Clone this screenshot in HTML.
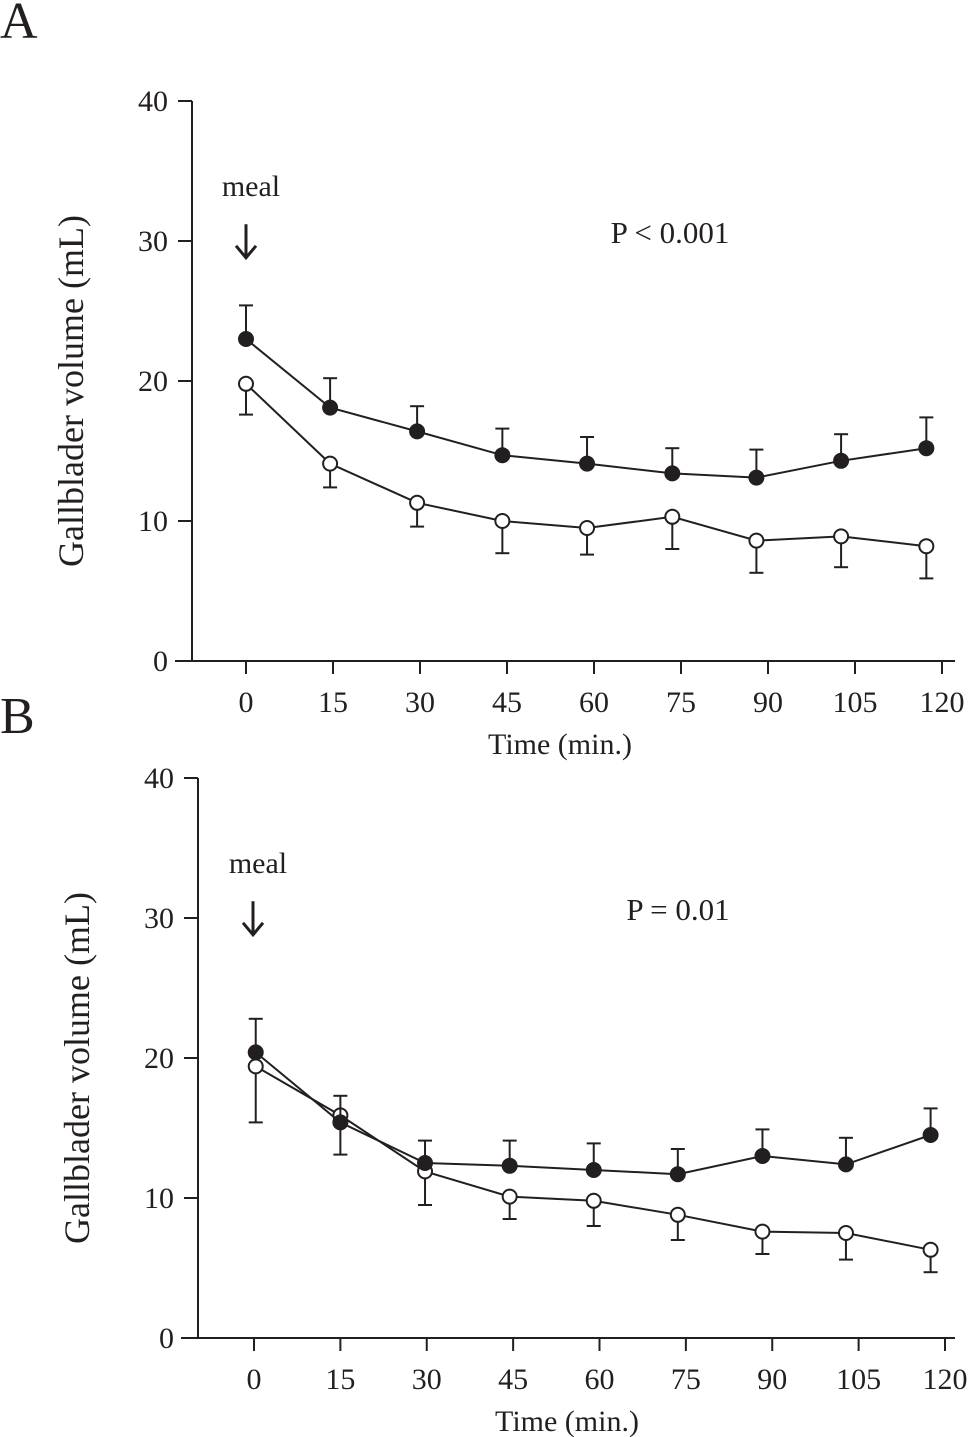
<!DOCTYPE html>
<html><head><meta charset="utf-8"><style>
body{margin:0;background:#fff}
svg{display:block;font-family:"Liberation Serif",serif;fill:#231f20}
</style></head><body>
<svg id="c" width="975" height="1437" viewBox="0 0 975 1437"></svg>
<script>
const times=[0,15,30,45,60,75,90,105,120];
const yTicks=[0,10,20,30,40];
const aX=[0,14.5,29.5,44.2,58.8,73.5,88,102.6,117.3];
const aFilled=[23.0,18.1,16.4,14.7,14.1,13.4,13.1,14.3,15.2];
const aFilledErr=[25.4,20.2,18.2,16.6,16.0,15.2,15.1,16.2,17.4];
const aOpen=[19.8,14.1,11.3,10.0,9.5,10.3,8.6,8.9,8.2];
const aOpenErr=[17.6,12.4,9.6,7.7,7.6,8.0,6.3,6.7,5.9];
const bX=[0.3,15,29.7,44.4,59,73.6,88.3,102.8,117.5];
const bFilled=[20.4,15.4,12.5,12.3,12.0,11.7,13.0,12.4,14.5];
const bFilledErr=[22.8,17.3,14.1,14.1,13.9,13.5,14.9,14.3,16.4];
const bOpen=[19.4,15.9,11.9,10.1,9.8,8.8,7.6,7.5,6.3];
const bOpenErr=[15.4,13.1,9.5,8.5,8.0,7.0,6.0,5.6,4.7];
const svg=document.getElementById('c');
const NS='http://www.w3.org/2000/svg';
function mk(tag,attrs,parent,txt){const e=document.createElementNS(NS,tag);for(const k in attrs)e.setAttribute(k,attrs[k]);if(txt!==undefined)e.textContent=txt;(parent||svg).appendChild(e);return e;}
function panel(p){
  const g=mk('g',{});
  
  
  const sx=v=>p.x0+v*(p.x120-p.x0)/120, sy=v=>p.y0+v*(p.y40-p.y0)/40;
  const st={stroke:'#231f20','stroke-width':2,fill:'none'};
  let l=mk('line',Object.assign({x1:p.ax,y1:p.y40,x2:p.ax,y2:p.y0},st),g);
  
  l=mk('line',Object.assign({x1:p.ax-17,y1:p.y0,x2:p.xend,y2:p.y0},st),g);
  
  yTicks.forEach(v=>{mk('line',Object.assign({x1:p.ax-14,y1:sy(v),x2:p.ax,y2:sy(v)},st),g);
    const t=mk('text',{x:p.ax-24,y:sy(v)+10,'text-anchor':'end','font-size':30},g,v);
    });
  times.forEach(v=>{mk('line',Object.assign({x1:sx(v),y1:p.y0,x2:sx(v),y2:p.y0+13},st),g);
    const t=mk('text',{x:sx(v),y:p.y0+51,'text-anchor':'middle','font-size':30},g,v);
    });
  let t=mk('text',{x:p.timeX,y:p.y0+93,'text-anchor':'middle','font-size':30},g,'Time (min.)');
  
  const cy=(p.y0+p.y40)/2;
  t=mk('text',{x:0,y:0,'text-anchor':'middle','font-size':36,transform:`translate(${p.ax-109},${cy+10}) rotate(-90)`},g,'Gallblader volume (mL)');
  
  t=mk('text',{x:p.labelX,y:p.labelY,'font-size':52},g,p.id);
  
  t=mk('text',{x:p.mealX,y:sy(33.2),'text-anchor':'middle','font-size':30},g,'meal');
  
  const ax0=p.mealX-5, ay1=sy(31.2), ay2=sy(28.8);
  const ar=mk('path',{d:`M${ax0} ${ay1}V${ay2}M${ax0-10} ${ay2-12}L${ax0} ${ay2}L${ax0+10} ${ay2-12}`,stroke:'#231f20','stroke-width':3,fill:'none'},g);
  
  t=mk('text',{x:p.pX,y:sy(30)+2,'text-anchor':'middle','font-size':31},g,p.ptext);
  
  function series(xs,ys,errs,filled,name){
    const sg=mk('g',{},g);
    
    xs.forEach((x,i)=>{mk('line',Object.assign({x1:sx(x),y1:sy(ys[i]),x2:sx(x),y2:sy(errs[i])},st),sg);
      mk('line',Object.assign({x1:sx(x)-7,y1:sy(errs[i]),x2:sx(x)+7,y2:sy(errs[i])},st),sg);});
    mk('polyline',Object.assign({points:xs.map((x,i)=>sx(x)+','+sy(ys[i])).join(' ')},st),sg);
    xs.forEach((x,i)=>{const c=mk('circle',{cx:sx(x),cy:sy(ys[i]),r:7,fill:filled?'#231f20':'#fff',stroke:'#231f20','stroke-width':2},sg);
      });
  }
  series(p.xs,p.open,p.openErr,false,'open-series');
  series(p.xs,p.filled,p.filledErr,true,'filled-series');
}
panel({id:'A',ax:192,xend:955,x0:246,x120:942,y0:661,y40:101,labelX:0,labelY:38,mealX:251,pX:670,timeX:560,ptext:'P < 0.001',
  xs:aX,filled:aFilled,filledErr:aFilledErr,open:aOpen,openErr:aOpenErr});
panel({id:'B',ax:198,xend:955,x0:254,x120:945,y0:1338,y40:778,labelX:0,labelY:733,mealX:258,pX:678,timeX:567,ptext:'P = 0.01',
  xs:bX,filled:bFilled,filledErr:bFilledErr,open:bOpen,openErr:bOpenErr});
</script>
</body></html>
